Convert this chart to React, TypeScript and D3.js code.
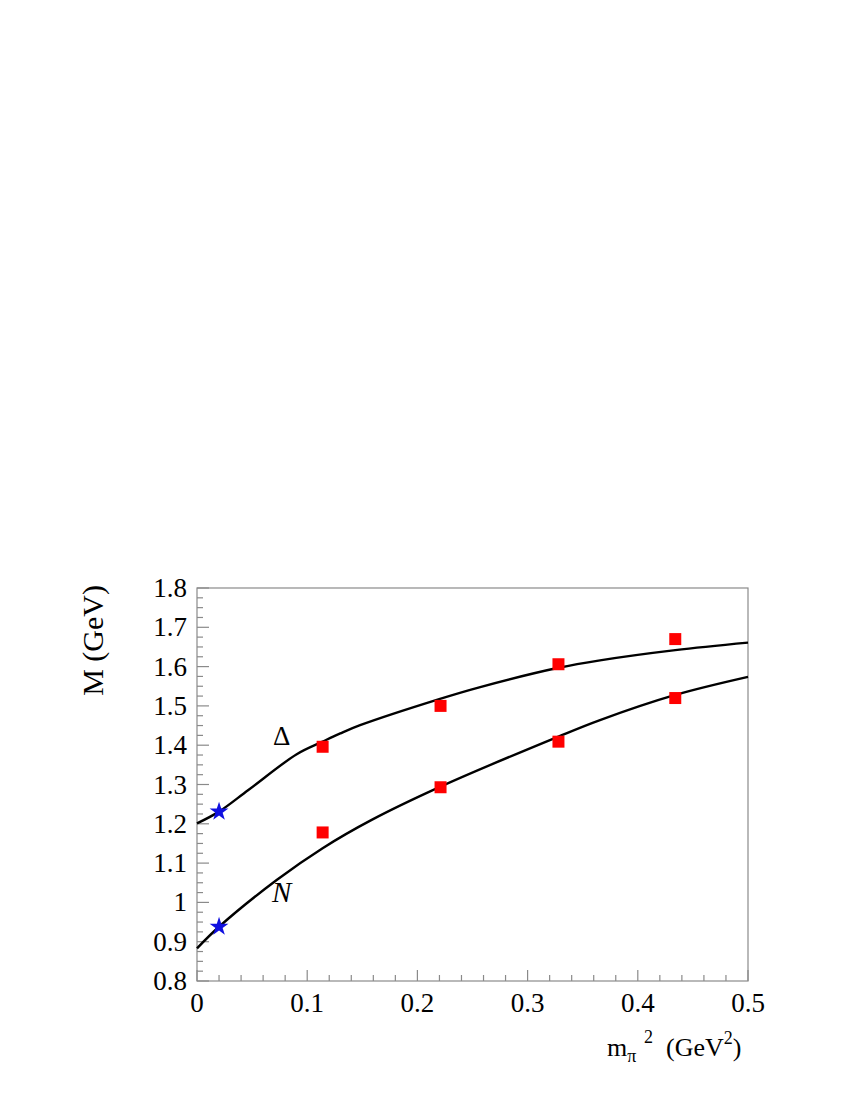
import React, { useRef, useEffect } from "react";
import * as d3 from "d3";

// lattice masses (red squares)
const mpi2Lattice = [0.114, 0.221, 0.328, 0.434];
const deltaLattice = [1.396, 1.5, 1.606, 1.67];
const nucleonLattice = [1.178, 1.293, 1.409, 1.52];

// physical point (blue stars)
const mpi2Phys = [0.02, 0.02];
const massPhys = [1.231, 0.938];

// fitted curves
const deltaCurveX = [0, 0.02, 0.0466, 0.0905, 0.114, 0.13, 0.148, 0.2205, 0.257, 0.328, 0.3657, 0.434, 0.5];
const deltaCurveY = [1.201, 1.231, 1.286, 1.377, 1.409, 1.43, 1.451, 1.518, 1.548, 1.597, 1.616, 1.642, 1.661];
const nucleonCurveX = [0, 0.02, 0.0723, 0.114, 0.1585, 0.2205, 0.328, 0.3657, 0.434, 0.5];
const nucleonCurveY = [0.883, 0.938, 1.057, 1.138, 1.21, 1.294, 1.422, 1.464, 1.528, 1.574];

const xTicks = [0, 0.1, 0.2, 0.3, 0.4, 0.5];
const yTicks = [0.8, 0.9, 1, 1.1, 1.2, 1.3, 1.4, 1.5, 1.6, 1.7, 1.8];

const App = () => {
    const ref = useRef<SVGSVGElement>(null);

    useEffect(() => {
        const svgWidth = 850;
        const svgHeight = 1100;
        const margin = { top: 588, right: 102, bottom: 119, left: 197 };
        const frameColor = "#8a8a8a";
        const font = "Liberation Serif";

        const svg = d3.select(ref.current)
            .attr("width", svgWidth)
            .attr("height", svgHeight)
            .attr("font-family", font);
        svg.selectAll("*").remove();

        const xScale = d3.scaleLinear()
            .domain([0, 0.5])
            .range([margin.left, svgWidth - margin.right]);
        const yScale = d3.scaleLinear()
            .domain([0.8, 1.8])
            .range([svgHeight - margin.bottom, margin.top]);

        const x0 = xScale(0), x1 = xScale(0.5);
        const y0 = yScale(0.8), y1 = yScale(1.8);

        // frame
        svg.append("rect")
            .attr("x", x0).attr("y", y1)
            .attr("width", x1 - x0).attr("height", y0 - y1)
            .attr("fill", "none")
            .attr("stroke", frameColor)
            .attr("stroke-width", 1.2);

        // x ticks (major 0.1, minor 0.02)
        const xMinor = d3.range(0, 0.5001, 0.02);
        svg.append("g").selectAll("line")
            .data(xMinor)
            .enter().append("line")
            .attr("x1", d => xScale(d)).attr("x2", d => xScale(d))
            .attr("y1", y0)
            .attr("y2", (d, i) => y0 - (i % 5 === 0 ? 11 : 6))
            .attr("stroke", frameColor)
            .attr("stroke-width", 1.2);

        // y ticks (major 0.1, minor 0.025)
        const yMinor = d3.range(0.8, 1.8001, 0.025);
        svg.append("g").selectAll("line")
            .data(yMinor)
            .enter().append("line")
            .attr("x1", x0)
            .attr("x2", (d, i) => x0 + (i % 4 === 0 ? 12 : 6))
            .attr("y1", d => yScale(d)).attr("y2", d => yScale(d))
            .attr("stroke", frameColor)
            .attr("stroke-width", 1.2);

        // tick labels
        svg.append("g").selectAll("text")
            .data(xTicks)
            .enter().append("text")
            .attr("x", d => xScale(d))
            .attr("y", y0 + 31)
            .attr("text-anchor", "middle")
            .attr("font-size", 27)
            .text(d => d3.format("~g")(d));

        svg.append("g").selectAll("text")
            .data(yTicks)
            .enter().append("text")
            .attr("x", x0 - 10)
            .attr("y", d => yScale(d) + 9)
            .attr("text-anchor", "end")
            .attr("font-size", 27)
            .text(d => d3.format("~g")(d));

        // axis titles
        svg.append("text")
            .attr("transform", `translate(${103},${585}) rotate(-90)`)
            .attr("text-anchor", "end")
            .attr("font-size", 30)
            .text("M (GeV)");

        const xt = svg.append("text")
            .attr("y", 1056)
            .attr("font-size", 26);
        xt.append("tspan").attr("x", 607).text("m");
        xt.append("tspan").attr("dy", 6).attr("font-size", 18).text("π");
        xt.append("tspan").attr("x", 644).attr("dy", -19).attr("font-size", 18).text("2");
        xt.append("tspan").attr("x", 666).attr("dy", 13).text("(GeV");
        xt.append("tspan").attr("dy", -12).attr("font-size", 18).text("2");
        xt.append("tspan").attr("dy", 12).text(")");

        // curves
        const line = d3.line<[number, number]>()
            .x(d => xScale(d[0]))
            .y(d => yScale(d[1]))
            .curve(d3.curveCatmullRom.alpha(0.5));

        const curves = [
            deltaCurveX.map((x, i) => [x, deltaCurveY[i]] as [number, number]),
            nucleonCurveX.map((x, i) => [x, nucleonCurveY[i]] as [number, number]),
        ];
        svg.append("g").selectAll("path")
            .data(curves)
            .enter().append("path")
            .attr("d", d => line(d))
            .attr("fill", "none")
            .attr("stroke", "#000")
            .attr("stroke-width", 2.4);

        // curve labels
        svg.append("text")
            .attr("x", 273).attr("y", 745)
            .attr("font-size", 27)
            .text("Δ");
        svg.append("text")
            .attr("x", 272).attr("y", 902)
            .attr("font-style", "italic")
            .attr("font-size", 29)
            .text("N");

        // lattice points
        const square = d3.symbol().type(d3.symbolSquare).size(144);
        const lattice = mpi2Lattice.flatMap((x, i) => [[x, deltaLattice[i]], [x, nucleonLattice[i]]]);
        svg.append("g").selectAll("path")
            .data(lattice)
            .enter().append("path")
            .attr("d", square)
            .attr("transform", d => `translate(${xScale(d[0])},${yScale(d[1])})`)
            .attr("fill", "#ff0000");

        // physical masses
        const star = d3.symbol().type(d3.symbolStar).size(110);
        svg.append("g").selectAll("path")
            .data(mpi2Phys.map((x, i) => [x, massPhys[i]]))
            .enter().append("path")
            .attr("d", star)
            .attr("transform", d => `translate(${xScale(d[0])},${yScale(d[1])})`)
            .attr("fill", "#1010e0");
    }, []);

    return (
        <div style={{ position: "absolute", left: 0, top: 0 }}>
            <svg ref={ref}></svg>
        </div>
    );
};

export default App;
